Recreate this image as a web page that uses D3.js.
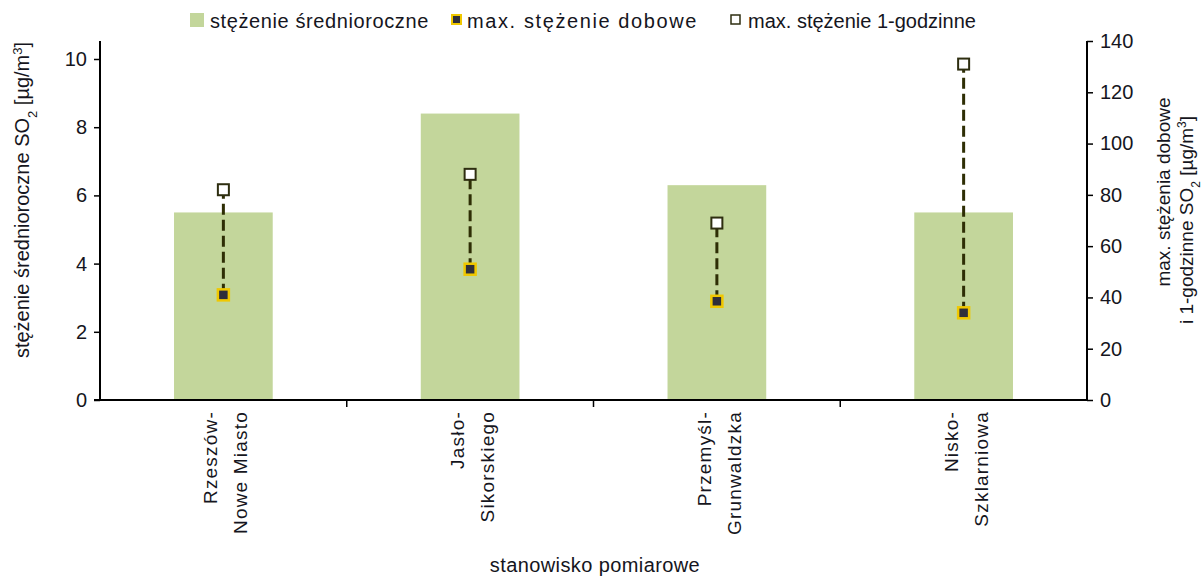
<!DOCTYPE html>
<html><head><meta charset="utf-8">
<script src="https://cdn.jsdelivr.net/npm/d3@7"></script>
<style>body{margin:0;background:#fff}svg{display:block}text{font-family:"Liberation Sans",Arial,sans-serif;fill:#151520}</style>
</head><body><svg id="c" width="1203" height="576"></svg>
<script>
const categories = [["Rzeszów-","Nowe Miasto"],["Jasło-","Sikorskiego"],["Przemyśl-","Grunwaldzka"],["Nisko-","Szklarniowa"]];
const annualMean = [5.5, 8.4, 6.3, 5.5];
const dailyMax = [41, 51, 38.5, 34];
const hourlyMax = [82, 88, 69, 131];
const leftTicks = [0,2,4,6,8,10];
const rightTicks = [0,20,40,60,80,100,120,140];

const svg = d3.select("#c");
const L = 100, R = 1087, T = 41, B = 400;
const x = d3.scaleBand().domain(d3.range(categories.length)).range([L, R]);
const yR = d3.scaleLinear().domain([0,140]).range([B, T]);
const pxPerUnit = (B - 59) / 10;
const yL = d3.scaleLinear().domain([0, (B - T) / pxPerUnit]).range([B, T]);

// bars
svg.append("g").selectAll("rect").data(annualMean).join("rect")
  .attr("x", (d,i) => x(i) + x.bandwidth()*0.3)
  .attr("width", x.bandwidth()*0.4)
  .attr("y", d => yL(d)).attr("height", d => B - yL(d))
  .attr("fill", "#c3d69b");

// dashed connectors
svg.append("g").selectAll("line").data(categories).join("line")
  .attr("x1", (d,i) => x(i)+x.bandwidth()/2).attr("x2", (d,i) => x(i)+x.bandwidth()/2)
  .attr("y1", (d,i) => yR(dailyMax[i])).attr("y2", (d,i) => yR(hourlyMax[i]))
  .attr("stroke", "#2e2e05").attr("stroke-width", 3).attr("stroke-dasharray", "11,5");

const ms = 11;
svg.append("g").selectAll("rect").data(hourlyMax).join("rect")
  .attr("x", (d,i) => x(i)+x.bandwidth()/2 - ms/2).attr("y", d => yR(d) - ms/2)
  .attr("width", ms).attr("height", ms)
  .attr("fill", "#fff").attr("stroke", "#2e2e10").attr("stroke-width", 2);
svg.append("g").selectAll("rect").data(dailyMax).join("rect")
  .attr("x", (d,i) => x(i)+x.bandwidth()/2 - ms/2).attr("y", d => yR(d) - ms/2)
  .attr("width", ms).attr("height", ms)
  .attr("fill", "#2f2f3a").attr("stroke", "#f0c800").attr("stroke-width", 2.5);

// axes
const fs = "20px";
const gl = svg.append("g").attr("transform", `translate(${L},0)`)
  .call(d3.axisLeft(yL).tickValues(leftTicks).tickSize(6).tickPadding(7));
const gr = svg.append("g").attr("transform", `translate(${R},0)`)
  .call(d3.axisRight(yR).tickValues(rightTicks).tickSize(6).tickPadding(7));
[gl, gr].forEach(g => {
  g.select(".domain").attr("stroke", "#000").attr("stroke-width", 2).attr("d", `M0,${T}V${B}`);
  g.selectAll(".tick line").attr("stroke", "#000").attr("stroke-width", 1.5);
  g.selectAll("text").style("font-size", fs).attr("fill", "#151520");
});
// bottom axis
svg.append("line").attr("x1", L-6).attr("x2", R).attr("y1", B).attr("y2", B).attr("stroke", "#000").attr("stroke-width", 2);
svg.append("g").selectAll("line").data(d3.range(1, categories.length)).join("line")
  .attr("x1", i => x(i)).attr("x2", i => x(i)).attr("y1", B).attr("y2", B+7)
  .attr("stroke", "#000").attr("stroke-width", 1.5);

// category labels
categories.forEach((lines, i) => {
  const cx = x(i) + x.bandwidth()/2;
  lines.forEach((s, j) => {
    svg.append("text")
      .attr("transform", `translate(${cx - 6 + j*30},411) rotate(-90)`)
      .attr("text-anchor", "end").style("font-size", "19px").style("letter-spacing", "1.2px").text(s);
  });
});

// axis titles
svg.append("text").attr("x", 595).attr("y", 572).attr("text-anchor", "middle").style("font-size", fs).style("letter-spacing", "0.4px").text("stanowisko pomiarowe");
const lt = svg.append("text").attr("transform", "translate(29,200) rotate(-90)").attr("text-anchor", "middle").style("font-size", fs);
lt.append("tspan").text("stężenie średnioroczne SO");
lt.append("tspan").attr("baseline-shift", "sub").style("font-size", "13px").text("2");
lt.append("tspan").text(" [µg/m");
lt.append("tspan").attr("baseline-shift", "super").style("font-size", "13px").text("3");
lt.append("tspan").text("]");

svg.append("text").attr("transform", "translate(1170,192) rotate(-90)").attr("text-anchor", "middle").style("font-size", "19px").text("max. stężenia dobowe");
const rt2 = svg.append("text").attr("transform", "translate(1193,220) rotate(-90)").attr("text-anchor", "middle").style("font-size", "19px");
rt2.append("tspan").text("i 1-godzinne SO");
rt2.append("tspan").attr("baseline-shift", "sub").style("font-size", "12px").text("2");
rt2.append("tspan").text(" [µg/m");
rt2.append("tspan").attr("baseline-shift", "super").style("font-size", "12px").text("3");
rt2.append("tspan").text("]");

// legend
const lg = svg.append("g");
lg.append("rect").attr("x", 190).attr("y", 13).attr("width", 14).attr("height", 14).attr("fill", "#c3d69b");
lg.append("text").attr("x", 210).attr("y", 28).style("font-size", fs).style("letter-spacing", "0.6px").text("stężenie średnioroczne");
lg.append("rect").attr("x", 452).attr("y", 15).attr("width", 9).attr("height", 9).attr("fill", "#2f2f3a").attr("stroke", "#f0c800").attr("stroke-width", 2);
lg.append("text").attr("x", 467).attr("y", 28).style("font-size", fs).style("letter-spacing", "1.6px").text("max. stężenie dobowe");
lg.append("rect").attr("x", 731).attr("y", 15).attr("width", 9).attr("height", 9).attr("fill", "#fff").attr("stroke", "#2e2e10").attr("stroke-width", 1.5);
lg.append("text").attr("x", 748).attr("y", 28).style("font-size", fs).text("max. stężenie 1-godzinne");
</script></body></html>
